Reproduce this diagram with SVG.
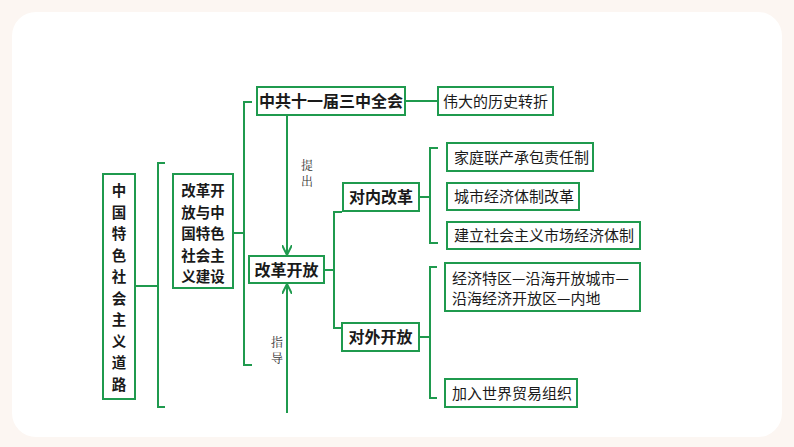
<svg xmlns="http://www.w3.org/2000/svg" width="794" height="447" viewBox="0 0 794 447">
<style>
.b{fill:#fff;stroke:#1f9a4e;stroke-width:2}
.l{fill:none;stroke:#1f9a4e;stroke-width:2}
.t{font-family:"Noto Sans CJK SC",sans-serif;font-size:15px;fill:#1a1a1a}
.tb{font-family:"Noto Sans CJK SC",sans-serif;font-size:16px;font-weight:bold;fill:#1a1a1a}
.tv{font-family:"Noto Sans CJK SC",sans-serif;font-size:14.5px;font-weight:bold;fill:#1a1a1a}
.s{font-family:"Noto Serif CJK SC","Noto Sans CJK SC",serif;font-size:12px;fill:#333}
</style>
<defs><marker id="a" viewBox="0 0 10 10" refX="9" refY="5" markerWidth="5" markerHeight="5" orient="auto"><path d="M0,0L10,5L0,10" fill="none" stroke="#1f9a4e" stroke-width="2"/></marker></defs>
<rect width="794" height="447" fill="#fcf6f2"/>
<rect x="12" y="12" width="770" height="425" rx="24" fill="#fff"/>
<g id="connectors">
<path class="l" d="M135,286H158M165,163H158V407H165"/>
<path class="l" d="M233,233H244M252,102H244V365H252"/>
<path class="l" d="M405,101H438"/>
<path class="l" d="M287,115V254" marker-end="url(#a)"/>
<path class="l" d="M287,413V285" marker-end="url(#a)"/>
<path class="l" d="M324,270H334M342,212H334V328H342"/>
<path class="l" d="M419,197H430M438,148H430V243H438"/>
<path class="l" d="M419,337H430M437,267H430V398H437"/>
<text class="s" x="307" y="170" text-anchor="middle">提</text>
<text class="s" x="307" y="186" text-anchor="middle">出</text>
<text class="s" x="277" y="347" text-anchor="middle">指</text>
<text class="s" x="277" y="363" text-anchor="middle">导</text>
</g>
<g id="n1"><rect class="b" x="103" y="174" width="32" height="225"/>
<text class="tv" text-anchor="middle"><tspan x="119" y="196">中</tspan><tspan x="119" y="217.5">国</tspan><tspan x="119" y="239">特</tspan><tspan x="119" y="260.5">色</tspan><tspan x="119" y="282">社</tspan><tspan x="119" y="303.5">会</tspan><tspan x="119" y="325">主</tspan><tspan x="119" y="346.5">义</tspan><tspan x="119" y="368">道</tspan><tspan x="119" y="389.5">路</tspan></text></g>
<g id="n2"><rect class="b" x="173" y="174" width="60" height="114"/>
<text class="tv" text-anchor="middle"><tspan x="203" y="196">改革开</tspan><tspan x="203" y="217.5">放与中</tspan><tspan x="203" y="239">国特色</tspan><tspan x="203" y="260.5">社会主</tspan><tspan x="203" y="282">义建设</tspan></text></g>
<g id="n3"><rect class="b" x="257" y="87" width="148" height="28"/><text class="tb" x="331" y="107" text-anchor="middle">中共十一届三中全会</text></g>
<g id="n4"><rect class="b" x="438" y="87" width="115" height="28"/><text class="t" x="495.5" y="106.5" text-anchor="middle">伟大的历史转折</text></g>
<g id="n5"><rect class="b" x="249" y="256" width="75" height="27"/><text class="tb" x="286.5" y="275.5" text-anchor="middle">改革开放</text></g>
<g id="n6"><rect class="b" x="343" y="183" width="76" height="28"/><text class="tb" x="381" y="203" text-anchor="middle">对内改革</text></g>
<g id="n7"><rect class="b" x="342" y="323" width="77" height="28"/><text class="tb" x="380.5" y="343" text-anchor="middle">对外开放</text></g>
<g id="n8"><rect class="b" x="447" y="143" width="146" height="28"/><text class="t" x="454" y="162.5">家庭联产承包责任制</text></g>
<g id="n9"><rect class="b" x="447" y="183" width="132" height="27"/><text class="t" x="454" y="202">城市经济体制改革</text></g>
<g id="n10"><rect class="b" x="447" y="222" width="193" height="27"/><text class="t" x="454" y="241">建立社会主义市场经济体制</text></g>
<g id="n11"><rect class="b" x="445" y="263" width="195" height="48"/><text class="t"><tspan x="452" y="284">经济特区—沿海开放城市—</tspan><tspan x="452" y="304">沿海经济开放区—内地</tspan></text></g>
<g id="n12"><rect class="b" x="445" y="379" width="132" height="28"/><text class="t" x="452" y="398.5">加入世界贸易组织</text></g>
</svg>
